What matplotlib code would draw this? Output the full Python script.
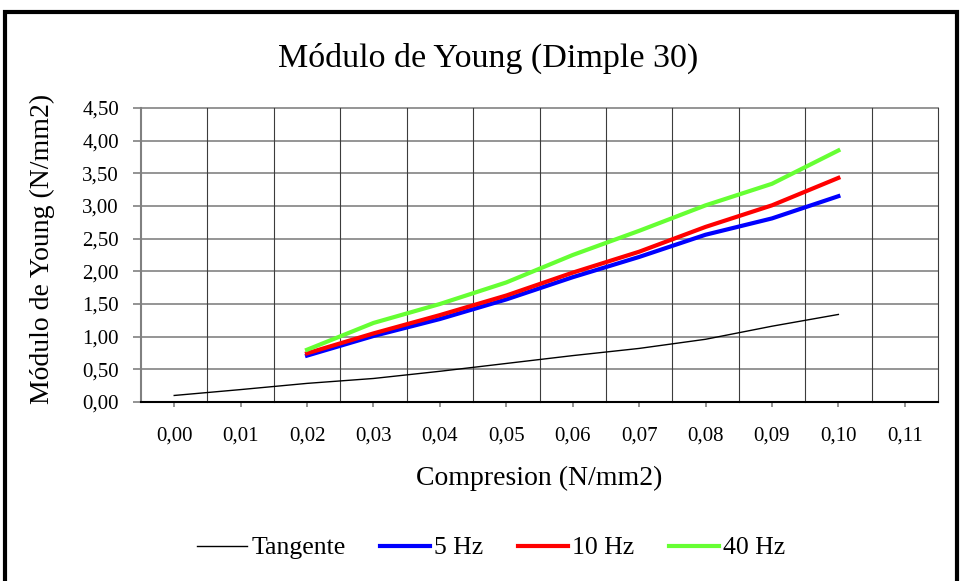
import numpy as np
import matplotlib
matplotlib.use('Agg')
import matplotlib.pyplot as plt
from matplotlib.patches import Rectangle

plt.rcParams['font.family'] = ['Liberation Serif', 'DejaVu Serif']

# === Data ===
x_labels = ['0,00', '0,01', '0,02', '0,03', '0,04', '0,05',
            '0,06', '0,07', '0,08', '0,09', '0,10', '0,11']
tangente = [0.10, 0.19, 0.285, 0.36, 0.47, 0.59, 0.71, 0.82, 0.96, 1.16, 1.34]
hz5 = [0.71, 1.01, 1.27, 1.57, 1.91, 2.22, 2.56, 2.81, 3.15]
hz10 = [0.745, 1.05, 1.33, 1.63, 1.98, 2.30, 2.68, 3.01, 3.43]
hz40 = [0.80, 1.21, 1.50, 1.83, 2.25, 2.62, 3.01, 3.34, 3.85]
y_ticks = [0.0, 0.5, 1.0, 1.5, 2.0, 2.5, 3.0, 3.5, 4.0, 4.5]

x_tan = np.arange(len(tangente))
x_hz = np.arange(2, 2 + len(hz5))

fig = plt.figure(figsize=(9.6, 5.81), dpi=100)
ax = fig.add_axes([141/960, 1 - 402/581, (938 - 141)/960, (402 - 108)/581])

# gridlines: horizontal light gray, vertical (category boundaries) darker
for yv in y_ticks[1:]:
    ax.axhline(yv, color='#8c8c8c', lw=1.3, zorder=1, clip_on=False)
for xv in np.arange(0.5, len(x_labels), 1.0):
    ax.axvline(xv, color='#3c3c3c', lw=0.8, zorder=1, clip_on=False)

ax.plot(x_tan, tangente, color='black', lw=1.0, label='Tangente', zorder=3)
ax.plot(x_hz, hz5, color='#0000ff', lw=3, label='5 Hz', zorder=3)
ax.plot(x_hz, hz10, color='#ff0000', lw=3, label='10 Hz', zorder=3)
ax.plot(x_hz, hz40, color='#66ff33', lw=3, label='40 Hz', zorder=3)

ax.set_xlim(-0.5, len(x_labels) - 0.5)
ax.set_ylim(0, 4.5)
ax.set_xticks(np.arange(len(x_labels)))
ax.set_xticklabels(x_labels, fontsize=15)
ax.set_yticks(y_ticks)
ax.set_yticklabels([f'{v:.2f}'.replace('.', ',') for v in y_ticks], fontsize=15)
ax.tick_params(axis='x', direction='out', length=3.6, color='#808080', width=1.2, pad=14)
ax.tick_params(axis='y', direction='out', length=5.8, color='#808080', width=1.2, pad=10)

for s in ['top', 'right']:
    ax.spines[s].set_visible(False)
ax.spines['left'].set_color('#808080')
ax.spines['left'].set_linewidth(1.5)
ax.spines['bottom'].set_color('black')
ax.spines['bottom'].set_linewidth(1.5)

fig.text(539/960, 1 - 478/581, 'Compresion (N/mm2)', fontsize=20,
         ha='center', va='center')
fig.text(42/960, 1 - 249/581, 'Módulo de Young (N/mm2)', fontsize=20,
         ha='center', va='center', rotation=90)
fig.text(488/960, 1 - 58/581, 'Módulo de Young (Dimple 30)', fontsize=24.5,
         ha='center', va='center')

fig.legend(loc='center', bbox_to_anchor=(491/960, 1 - 548/581), ncol=4,
           frameon=False, fontsize=18.5, handlelength=1.95, handletextpad=0.15,
           columnspacing=1.35)

# chart outer frame
fig.patches.append(Rectangle((5/960, -0.1), (957 - 5)/960, 1.1 - 12/581,
                             transform=fig.transFigure, fill=False,
                             edgecolor='black', lw=3))

fig.savefig('out.png', dpi=100)
